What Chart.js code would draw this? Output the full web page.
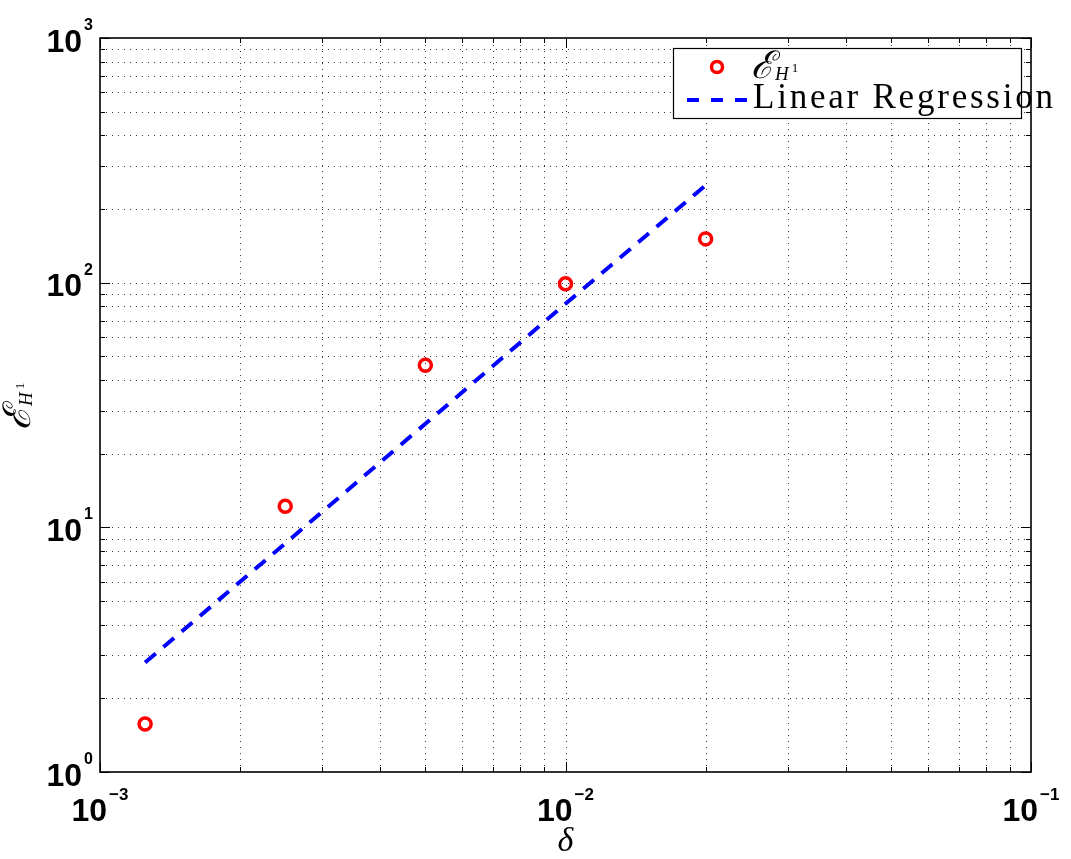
<!DOCTYPE html>
<html><head><meta charset="utf-8">
<script src="https://cdn.jsdelivr.net/npm/chart.js@4.4.1/dist/chart.umd.min.js"></script>
<style>html,body{margin:0;padding:0;background:#fff;} canvas{display:block;}</style>
</head><body>
<canvas id="c" width="1071" height="859"></canvas>
<script>
// ---- data ----
const deltas = [0.00125, 0.0025, 0.005, 0.01, 0.02];
const errorH1 = [1.57, 12.2, 46, 99, 151];
const regression = [2.8, 8.6, 26.5, 82, 250];
const xMajorTicks = [0.001, 0.01, 0.1];
const yMajorTicks = [1, 10, 100, 1000];
const minorMultipliers = [2, 3, 4, 5, 6, 7, 8, 9];
const regressionLabel = 'Linear Regression';
const xTitle = 'δ';

function minorTicks(majors) {
  const out = [];
  for (let i = 0; i < majors.length - 1; i++) minorMultipliers.forEach(m => out.push(majors[i] * m));
  return out;
}
const xMinor = minorTicks(xMajorTicks);
const yMinor = minorTicks(yMajorTicks);

function drawEH1(ctx, x, y, big, sub, sup) {
  ctx.font = 'italic ' + big + 'px "DejaVu Serif", "Liberation Serif", serif';
  ctx.fillText('ℰ', x, y);
  const wE = ctx.measureText('ℰ').width;
  ctx.font = 'italic ' + sub + 'px "Liberation Serif", serif';
  ctx.fillText('H', x + wE + 1, y + 2);
  const wH = ctx.measureText('H').width;
  ctx.font = sup + 'px "Liberation Serif", serif';
  ctx.fillText('1', x + wE + wH + 4, y - 6);
}

function powLabel(ctx, exp, baseSize, supSize) {
  const base = '10';
  const sup = exp < 0 ? '\u2212' + (-exp) : String(exp);
  ctx.font = 'bold ' + baseSize + 'px "Liberation Sans", Arial, sans-serif';
  const wb = ctx.measureText(base).width;
  ctx.font = 'bold ' + supSize + 'px "Liberation Sans", Arial, sans-serif';
  const ws = ctx.measureText(sup).width;
  return {base, sup, wb, ws, total: wb + 2 + ws};
}

const matlabLook = {
  id: 'matlabLook',
  beforeDraw(chart) {
    const ctx = chart.ctx;
    ctx.save();
    ctx.fillStyle = '#fff';
    ctx.fillRect(0, 0, chart.width, chart.height);
    ctx.restore();
  },
  beforeDatasetsDraw(chart) {
    const ctx = chart.ctx, a = chart.chartArea, xs = chart.scales.x, ys = chart.scales.y;
    ctx.save();
    ctx.strokeStyle = '#3a3a3a';
    ctx.lineWidth = 1;
    ctx.setLineDash([1, 5]);
    xMajorTicks.concat(xMinor).forEach(v => {
      const p = Math.round(xs.getPixelForValue(v)) + 0.5;
      if (p <= a.left + 1 || p >= a.right - 1) return;
      ctx.beginPath(); ctx.moveTo(p, a.bottom); ctx.lineTo(p, a.top); ctx.stroke();
    });
    yMajorTicks.concat(yMinor).forEach(v => {
      const p = Math.round(ys.getPixelForValue(v)) + 0.5;
      if (p <= a.top + 1 || p >= a.bottom - 1) return;
      ctx.beginPath(); ctx.moveTo(a.left, p); ctx.lineTo(a.right, p); ctx.stroke();
    });
    ctx.restore();
  },
  afterDraw(chart) {
    const ctx = chart.ctx, a = chart.chartArea, xs = chart.scales.x, ys = chart.scales.y;
    ctx.save();
    ctx.setLineDash([]);
    ctx.strokeStyle = '#000';
    // ticks
    ctx.lineWidth = 1;
    const tickX = (v, len) => {
      const p = Math.round(xs.getPixelForValue(v)) + 0.5;
      ctx.beginPath();
      ctx.moveTo(p, a.bottom); ctx.lineTo(p, a.bottom - len);
      ctx.moveTo(p, a.top); ctx.lineTo(p, a.top + len);
      ctx.stroke();
    };
    const tickY = (v, len) => {
      const p = Math.round(ys.getPixelForValue(v)) + 0.5;
      ctx.beginPath();
      ctx.moveTo(a.left, p); ctx.lineTo(a.left + len, p);
      ctx.moveTo(a.right, p); ctx.lineTo(a.right - len, p);
      ctx.stroke();
    };
    xMajorTicks.forEach(v => tickX(v, 10));
    xMinor.forEach(v => tickX(v, 5));
    yMajorTicks.forEach(v => tickY(v, 10));
    yMinor.forEach(v => tickY(v, 5));
    // border
    ctx.lineWidth = 1.6;
    ctx.strokeRect(a.left, a.top, a.right - a.left, a.bottom - a.top);

    // tick labels
    ctx.fillStyle = '#000';
    ctx.textBaseline = 'alphabetic';
    ctx.textAlign = 'left';
    yMajorTicks.forEach(v => {
      const p = ys.getPixelForValue(v);
      const L = powLabel(ctx, Math.round(Math.log10(v)), 32, 16);
      const x0 = a.left - 7 - L.total;
      ctx.font = 'bold 32px "Liberation Sans", Arial, sans-serif';
      ctx.fillText(L.base, x0, p + 13.5);
      ctx.font = 'bold 16px "Liberation Sans", Arial, sans-serif';
      ctx.fillText(L.sup, x0 + L.wb + 2, p - 8);
    });
    xMajorTicks.forEach(v => {
      const p = xs.getPixelForValue(v);
      const L = powLabel(ctx, Math.round(Math.log10(v)), 32, 17);
      const x0 = p - L.total / 2;
      ctx.font = 'bold 32px "Liberation Sans", Arial, sans-serif';
      ctx.fillText(L.base, x0, a.bottom + 49);
      ctx.font = 'bold 17px "Liberation Sans", Arial, sans-serif';
      ctx.fillText(L.sup, x0 + L.wb + 2, a.bottom + 28);
    });

    // axis titles
    ctx.font = 'italic 34px "Liberation Serif", serif';
    ctx.textAlign = 'center';
    ctx.fillText(xTitle, (a.left + a.right) / 2, a.bottom + 79);
    ctx.textAlign = 'left';
    ctx.save();
    ctx.translate(30, 430);
    ctx.rotate(-Math.PI / 2);
    drawEH1(ctx, 0, 0, 38, 19, 13);
    ctx.restore();

    // legend
    const lx = 673.5, ly = 48.5, lw = 348, lh = 70;
    ctx.fillStyle = '#fff';
    ctx.fillRect(lx, ly, lw, lh);
    ctx.lineWidth = 1.2;
    ctx.strokeStyle = '#000';
    ctx.strokeRect(lx, ly, lw, lh);
    // marker
    ctx.beginPath();
    ctx.strokeStyle = '#ff0000';
    ctx.lineWidth = 3.5;
    ctx.arc(717, 67, 5.5, 0, Math.PI * 2);
    ctx.stroke();
    ctx.fillStyle = '#000';
    drawEH1(ctx, 751, 78, 38, 19, 13);
    // dashed sample
    ctx.strokeStyle = '#0000ff';
    ctx.lineWidth = 4;
    ctx.setLineDash([12, 12]);
    ctx.beginPath(); ctx.moveTo(687, 100); ctx.lineTo(748, 100); ctx.stroke();
    ctx.setLineDash([]);
    // spaced text
    ctx.font = '35px "Liberation Serif", serif';
    const chars = regressionLabel.split('');
    const widths = chars.map(c => ctx.measureText(c).width);
    const natural = widths.reduce((s, w) => s + w, 0);
    const extra = (300 - natural) / (chars.length - 1);
    let cx = 753;
    chars.forEach((c, i) => { ctx.fillText(c, cx, 108); cx += widths[i] + extra; });
    ctx.restore();
  }
};

new Chart(document.getElementById('c'), {
  type: 'scatter',
  data: {
    datasets: [
      {
        label: 'EH1',
        data: deltas.map((x, i) => ({x, y: errorH1[i]})),
        pointStyle: 'circle',
        pointRadius: 6,
        pointBorderWidth: 3.5,
        borderColor: '#ff0000',
        backgroundColor: 'rgba(0,0,0,0)',
        showLine: false,
        order: 0
      },
      {
        label: regressionLabel,
        data: deltas.map((x, i) => ({x, y: regression[i]})),
        showLine: true,
        borderColor: '#0000ff',
        borderWidth: 4,
        borderDash: [14, 10],
        pointRadius: 0,
        fill: false,
        order: 1
      }
    ]
  },
  options: {
    responsive: false,
    animation: false,
    events: [],
    layout: {padding: {left: 100, top: 38, right: 40, bottom: 87}},
    plugins: {legend: {display: false}, tooltip: {enabled: false}},
    scales: {
      x: {type: 'logarithmic', min: 0.001, max: 0.1, display: false},
      y: {type: 'logarithmic', min: 1, max: 1000, display: false}
    }
  },
  plugins: [matlabLook]
});
</script>
</body></html>
